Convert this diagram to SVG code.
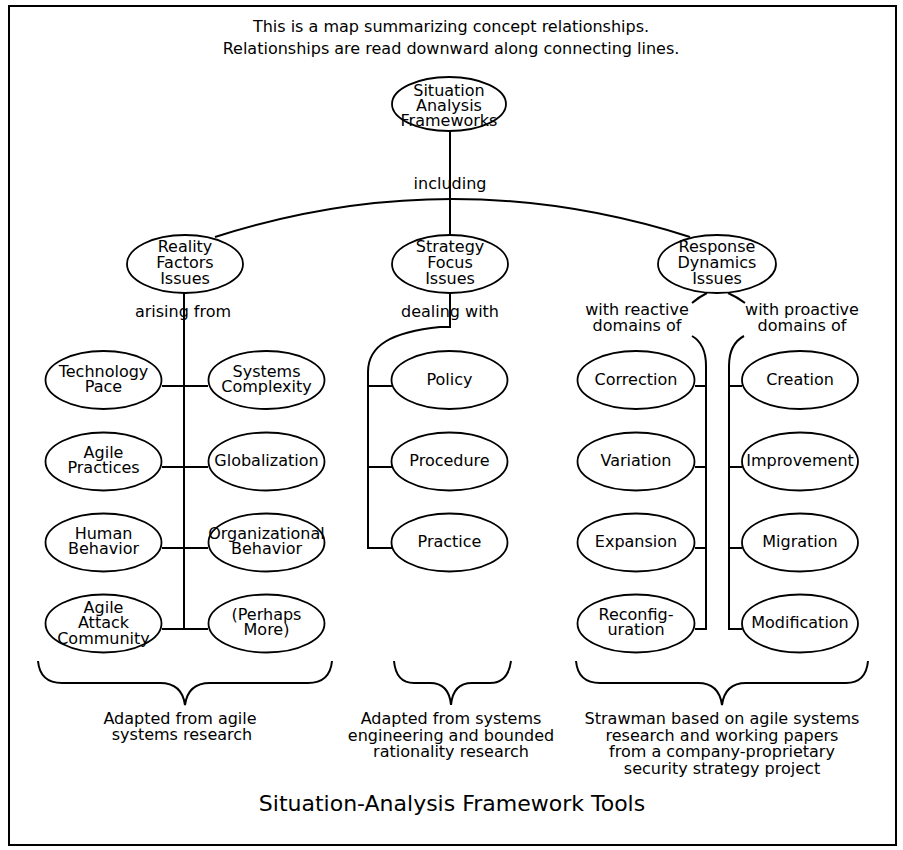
<svg xmlns="http://www.w3.org/2000/svg" width="903" height="850" viewBox="0 0 903 850">
<style>
.n ellipse{fill:#fff;stroke:#000;stroke-width:1.8}
.n text{font-family:"DejaVu Sans",sans-serif;font-size:16px;text-anchor:middle;fill:#000}
.lbl{font-family:"DejaVu Sans",sans-serif;font-size:16px;text-anchor:middle;fill:#000}
.note{font-family:"DejaVu Sans",sans-serif;font-size:16px;text-anchor:middle;fill:#000}
.title{font-family:"DejaVu Sans",sans-serif;font-size:22px;text-anchor:middle;fill:#000}
#connectors path,#connectors line{fill:none;stroke:#000;stroke-width:2}
#braces path{fill:none;stroke:#000;stroke-width:2}
</style>
<rect x="9" y="6" width="887" height="839" fill="#fff" stroke="#000" stroke-width="2"/>
<text class="note" x="451" y="32">This is a map summarizing concept relationships.</text>
<text class="note" x="451" y="54">Relationships are read downward along connecting lines.</text>

<g id="connectors">
<line x1="450" y1="131" x2="450" y2="234"/>
<path d="M215,237 Q452,161 690,237"/>
<line x1="184" y1="293" x2="184" y2="630"/>
<line x1="162" y1="386" x2="208" y2="386"/>
<line x1="162" y1="467" x2="208" y2="467"/>
<line x1="162" y1="548" x2="208" y2="548"/>
<line x1="162" y1="629" x2="208" y2="629"/>
<path d="M450,293 V327 H440 C392,332 368,345 368,372 V548"/>
<line x1="367" y1="386" x2="392" y2="386"/>
<line x1="367" y1="467" x2="392" y2="467"/>
<line x1="367" y1="548" x2="392" y2="548"/>
<path d="M707,293 Q699,297 692,303"/>
<path d="M728,293 Q737,297 745,303"/>
<path d="M692,336 Q706,344 706,366 V630"/>
<path d="M744,336 Q729,344 729,366 V630"/>
<line x1="695" y1="386" x2="707" y2="386"/>
<line x1="695" y1="467" x2="707" y2="467"/>
<line x1="695" y1="548" x2="707" y2="548"/>
<line x1="695" y1="629" x2="707" y2="629"/>
<line x1="728" y1="386" x2="742" y2="386"/>
<line x1="728" y1="467" x2="742" y2="467"/>
<line x1="728" y1="548" x2="742" y2="548"/>
<line x1="728" y1="629" x2="742" y2="629"/>
</g>

<text class="lbl" x="450" y="189">including</text>
<text class="lbl" x="183" y="317">arising from</text>
<text class="lbl" x="450" y="317">dealing with</text>
<text class="lbl" x="637" y="315">with reactive</text>
<text class="lbl" x="637" y="331">domains of</text>
<text class="lbl" x="802" y="315">with proactive</text>
<text class="lbl" x="802" y="331">domains of</text>

<g id="root" class="n"><ellipse cx="449" cy="104" rx="57" ry="27"/><text x="449" y="96">Situation</text><text x="449" y="111">Analysis</text><text x="449" y="126">Frameworks</text></g>

<g id="reality" class="n"><ellipse cx="185" cy="264" rx="58" ry="29"/><text x="185" y="252">Reality</text><text x="185" y="268">Factors</text><text x="185" y="284">Issues</text></g>
<g id="strategy" class="n"><ellipse cx="450" cy="264" rx="58" ry="29"/><text x="450" y="252">Strategy</text><text x="450" y="268">Focus</text><text x="450" y="284">Issues</text></g>
<g id="response" class="n"><ellipse cx="717" cy="264" rx="59" ry="29"/><text x="717" y="252">Response</text><text x="717" y="268">Dynamics</text><text x="717" y="284">Issues</text></g>

<g id="technology-pace" class="n"><ellipse cx="103.5" cy="380" rx="58" ry="29"/><text x="103.5" y="377">Technology</text><text x="103.5" y="392">Pace</text></g>
<g id="systems-complexity" class="n"><ellipse cx="266.5" cy="380" rx="58" ry="29"/><text x="266.5" y="377">Systems</text><text x="266.5" y="392">Complexity</text></g>
<g id="agile-practices" class="n"><ellipse cx="103.5" cy="461.5" rx="58" ry="29"/><text x="103.5" y="458">Agile</text><text x="103.5" y="473">Practices</text></g>
<g id="globalization" class="n"><ellipse cx="266.5" cy="461.5" rx="58" ry="29"/><text x="266.5" y="466">Globalization</text></g>
<g id="human-behavior" class="n"><ellipse cx="103.5" cy="542.5" rx="58" ry="29"/><text x="103.5" y="539">Human</text><text x="103.5" y="554">Behavior</text></g>
<g id="organizational-behavior" class="n"><ellipse cx="266.5" cy="542.5" rx="58" ry="29"/><text x="266.5" y="539">Organizational</text><text x="266.5" y="554">Behavior</text></g>
<g id="agile-attack-community" class="n"><ellipse cx="103.5" cy="623.5" rx="58" ry="29"/><text x="103.5" y="613">Agile</text><text x="103.5" y="628">Attack</text><text x="103.5" y="644">Community</text></g>
<g id="perhaps-more" class="n"><ellipse cx="266.5" cy="623.5" rx="58" ry="29"/><text x="266.5" y="620">(Perhaps</text><text x="266.5" y="635">More)</text></g>

<g id="policy" class="n"><ellipse cx="449.5" cy="380" rx="58" ry="29"/><text x="449.5" y="385">Policy</text></g>
<g id="procedure" class="n"><ellipse cx="449.5" cy="461.5" rx="58" ry="29"/><text x="449.5" y="466">Procedure</text></g>
<g id="practice" class="n"><ellipse cx="449.5" cy="542.5" rx="58" ry="29"/><text x="449.5" y="547">Practice</text></g>

<g id="correction" class="n"><ellipse cx="636" cy="380" rx="58.5" ry="29"/><text x="636" y="385">Correction</text></g>
<g id="variation" class="n"><ellipse cx="636" cy="461.5" rx="58.5" ry="29"/><text x="636" y="466">Variation</text></g>
<g id="expansion" class="n"><ellipse cx="636" cy="542.5" rx="58.5" ry="29"/><text x="636" y="547">Expansion</text></g>
<g id="reconfiguration" class="n"><ellipse cx="636" cy="623.5" rx="58.5" ry="29"/><text x="636" y="620">Reconfig-</text><text x="636" y="635">uration</text></g>
<g id="creation" class="n"><ellipse cx="800" cy="380" rx="58" ry="29"/><text x="800" y="385">Creation</text></g>
<g id="improvement" class="n"><ellipse cx="800" cy="461.5" rx="58" ry="29"/><text x="800" y="466">Improvement</text></g>
<g id="migration" class="n"><ellipse cx="800" cy="542.5" rx="58" ry="29"/><text x="800" y="547">Migration</text></g>
<g id="modification" class="n"><ellipse cx="800" cy="623.5" rx="58" ry="29"/><text x="800" y="628">Modification</text></g>

<g id="braces">
<path d="M38,661 Q40,683 62,683 H160 Q182,683 185,705 Q188,683 210,683 H308 Q330,683 332,661"/>
<path d="M394,661 Q396,683 414,683 H430 Q449,683 451,705 Q453,683 472,683 H490 Q508,683 511,661"/>
<path d="M576,661 Q578,683 600,683 H698 Q719,683 722,705 Q725,683 746,683 H846 Q866,683 868,661"/>
</g>

<text class="note" x="180" y="724">Adapted from agile</text>
<text class="note" x="182" y="740">systems research</text>
<text class="note" x="451" y="724">Adapted from systems</text>
<text class="note" x="451" y="740.5">engineering and bounded</text>
<text class="note" x="451" y="757">rationality research</text>
<text class="note" x="722" y="724">Strawman based on agile systems</text>
<text class="note" x="722" y="740.5">research and working papers</text>
<text class="note" x="722" y="757">from a company-proprietary</text>
<text class="note" x="722" y="773.5">security strategy project</text>

<text class="title" x="452" y="811">Situation-Analysis Framework Tools</text>
</svg>
